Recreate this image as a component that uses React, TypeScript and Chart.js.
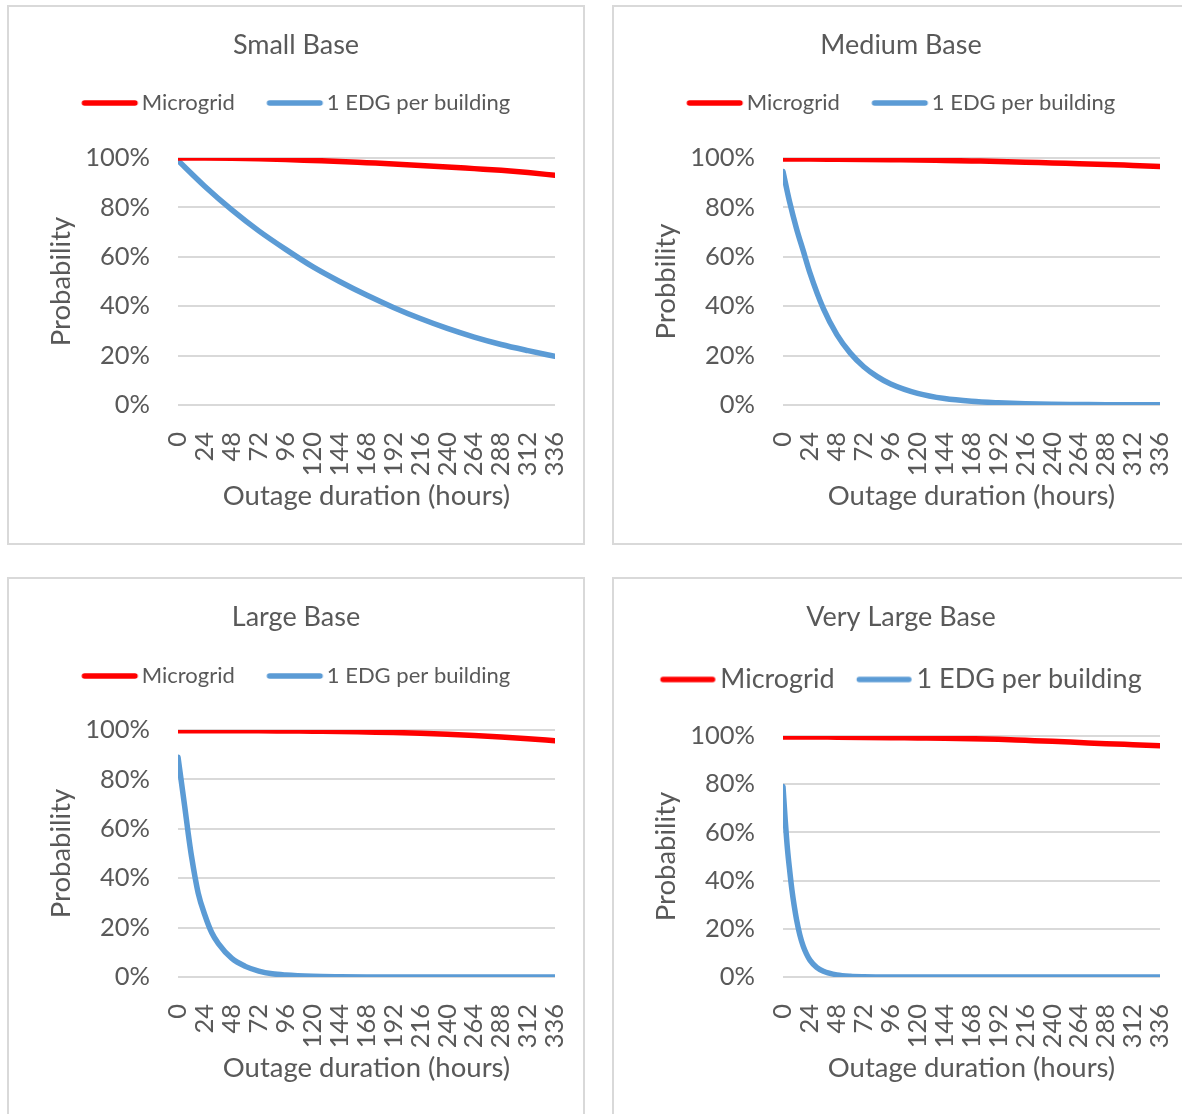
import React, { useEffect, useRef } from 'react';
import { Chart, registerables } from 'chart.js';

Chart.register(...registerables);

// ---------------- data ----------------
const seriesNames = ['Microgrid', '1 EDG per building'];
const xAxisTitle = 'Outage duration (hours)';
const xMaxHours = 336;
const xStepHours = 24;
const yTickValues = [0, 20, 40, 60, 80, 100];

const hours24 = [0, 24, 48, 72, 96, 120, 144, 168, 192, 216, 240, 264, 288, 312, 336];

// Small Base
const smallMicrogrid = [100, 100, 99.9, 99.7, 99.4, 99.0, 98.6, 98.1, 97.6, 97.0, 96.4, 95.7, 95.0, 94.1, 93.0];
const smallEdgHours = [0, 24, 48, 72, 96, 120, 144, 168, 192, 216, 240, 264, 288, 312, 336];
const smallEdg = [99, 88.5, 79, 70.5, 63, 56, 50, 44.5, 39.5, 35, 31, 27.5, 24.5, 22, 19.7];

// Medium Base
const mediumMicrogrid = [99.6, 99.6, 99.5, 99.4, 99.3, 99.2, 99.0, 98.8, 98.6, 98.3, 98.0, 97.7, 97.4, 97.0, 96.6];
const mediumEdgHours = [0, 6, 12, 18, 24, 36, 48, 60, 72, 84, 96, 120, 144, 168, 192, 216, 240, 264, 288, 312, 336];
const mediumEdg = [94.5, 82, 71.5, 62.5, 53.5, 39, 28.5, 21, 15.5, 11.5, 8.5, 4.7, 2.6, 1.5, 0.9, 0.5, 0.3, 0.2, 0.1, 0.1, 0.1];

// Large Base
const largeMicrogrid = [99.7, 99.7, 99.7, 99.7, 99.6, 99.5, 99.4, 99.2, 99.0, 98.7, 98.3, 97.8, 97.2, 96.5, 95.6];
const largeEdgHours = [0, 3, 6, 9, 12, 18, 24, 30, 36, 48, 60, 72, 84, 96, 120, 144, 168, 192, 216, 240, 264, 288, 312, 336];
const largeEdg = [89, 79, 69, 58.5, 49, 34, 25, 18, 13.5, 7.5, 4.3, 2.4, 1.3, 0.8, 0.3, 0.1, 0, 0, 0, 0, 0, 0, 0, 0];

// Very Large Base
const veryLargeMicrogrid = [99.6, 99.6, 99.5, 99.4, 99.3, 99.2, 99.1, 98.9, 98.6, 98.2, 97.8, 97.3, 96.8, 96.4, 96.0];
const veryLargeEdgHours = [0, 2, 4, 6, 8, 10, 12, 15, 18, 21, 24, 30, 36, 48, 60, 72, 96, 120, 144, 168, 192, 216, 240, 264, 288, 312, 336];
const veryLargeEdg = [79, 65, 53, 44, 36, 29.5, 24, 17.5, 12.8, 9.5, 7, 4, 2.4, 0.9, 0.3, 0.1, 0, 0, 0, 0, 0, 0, 0, 0, 0, 0, 0];

// ---------------- styles / layout ----------------
const FONT = 'Lato, "Open Sans", sans-serif';
const TEXT = '#595959';
const RED = '#ff0000';
const BLUE = '#5b9bd5';
const GRID = '#d9d9d9';
const BORDER = '#d9d9d9';
const LINE_W = 5.5;

const PANEL_W = 578;
const PANEL_H = 540;
const BORDER_W = 2;
const CANVAS_W = PANEL_W - 2 * BORDER_W;
const CANVAS_H = PANEL_H - 2 * BORDER_W;

const PLOT_LEFT = 169;
const PLOT_RIGHT = 546;
const TITLE_SIZE = 27;
const TITLE_CENTER = 38;
const AXIS_TITLE_SIZE = 27.5;
const AXIS_LH = 1.2;
const TICK_SIZE = 25.5;
const Y_TITLE_CENTER = 52;
const X_TITLE_CENTER = 489;

type PanelCfg = {
  title: string;
  yTitle: string;
  red: number[];
  blueHours: number[];
  blue: number[];
  left: number;
  top: number;
  legendSize: number;
  legendPad: number;
  legendLine: number;
  legendTextOffset: number;
  legendCenter: number;
  plotTop: number;
  plotBottom: number;
};

const panels: PanelCfg[] = [
  { title: 'Small Base', yTitle: 'Probability', red: smallMicrogrid, blueHours: smallEdgHours, blue: smallEdg,
    left: 7, top: 5, legendSize: 22, legendPad: 32, legendLine: 56, legendTextOffset: 60, legendCenter: 96, plotTop: 151, plotBottom: 398 },
  { title: 'Medium Base', yTitle: 'Probbility', red: mediumMicrogrid, blueHours: mediumEdgHours, blue: mediumEdg,
    left: 612, top: 5, legendSize: 22, legendPad: 32, legendLine: 56, legendTextOffset: 60, legendCenter: 96, plotTop: 151, plotBottom: 398 },
  { title: 'Large Base', yTitle: 'Probability', red: largeMicrogrid, blueHours: largeEdgHours, blue: largeEdg,
    left: 7, top: 577, legendSize: 22, legendPad: 32, legendLine: 56, legendTextOffset: 60, legendCenter: 97, plotTop: 151, plotBottom: 398 },
  { title: 'Very Large Base', yTitle: 'Probability', red: veryLargeMicrogrid, blueHours: veryLargeEdgHours, blue: veryLargeEdg,
    left: 612, top: 577, legendSize: 27, legendPad: 22, legendLine: 55, legendTextOffset: 60, legendCenter: 100.5, plotTop: 157, plotBottom: 398 },
];

// legend swatch: a round-capped line image, drawn by the legend as the point style
function makeSwatch(color: string, lineLen: number, boxWidth: number): HTMLCanvasElement {
  const cx = boxWidth / 2;
  const half = Math.ceil(Math.max(cx, lineLen - cx)) + 1;
  const c = document.createElement('canvas');
  c.width = half * 2;
  c.height = 10;
  const ctx = c.getContext('2d') as CanvasRenderingContext2D;
  const off = half - cx;
  ctx.strokeStyle = color;
  ctx.lineWidth = LINE_W;
  ctx.lineCap = 'round';
  ctx.beginPath();
  ctx.moveTo(off + LINE_W / 2, 5);
  ctx.lineTo(off + lineLen - LINE_W / 2, 5);
  ctx.stroke();
  return c;
}

function buildConfig(p: PanelCfg): any {
  const titlePadTop = TITLE_CENTER - TITLE_SIZE / 2;
  const titleBottom = TITLE_CENTER + TITLE_SIZE / 2;
  const titleGap = p.legendCenter - p.legendSize / 2 - p.legendPad - titleBottom;
  const legendBottom = titleBottom + titleGap + p.legendSize + p.legendPad + 10;
  const spacer = p.plotTop - legendBottom;
  const boxWidth = p.legendTextOffset - p.legendSize / 2;

  const mkLine = (label: string, xs: number[], ys: number[], color: string) => ({
    label,
    data: xs.map((h, i) => ({ x: h, y: ys[i] })),
    borderColor: color,
    backgroundColor: color,
    borderWidth: LINE_W,
    pointRadius: 0,
    pointStyle: makeSwatch(color, p.legendLine, boxWidth),
    cubicInterpolationMode: 'monotone',
    borderCapStyle: 'round',
    borderJoinStyle: 'round',
    fill: false,
  });

  return {
    type: 'line',
    data: {
      datasets: [
        mkLine(seriesNames[0], hours24, p.red, RED),
        mkLine(seriesNames[1], p.blueHours, p.blue, BLUE),
      ],
    },
    options: {
      responsive: false,
      animation: false,
      devicePixelRatio: 1,
      layout: { padding: 0 },
      events: [],
      plugins: {
        title: {
          display: true,
          text: p.title,
          color: TEXT,
          font: { family: FONT, size: TITLE_SIZE, weight: 'normal', lineHeight: 1 },
          padding: { top: titlePadTop, bottom: titleGap },
        },
        legend: {
          display: true,
          position: 'top',
          labels: {
            usePointStyle: true,
            pointStyleWidth: boxWidth,
            color: TEXT,
            font: { family: FONT, size: p.legendSize, weight: 'normal' },
            padding: p.legendPad,
          },
        },
        // empty spacer block between the legend and the plot
        subtitle: {
          display: true,
          text: '',
          position: 'top',
          weight: 500,
          font: { family: FONT, size: 1, lineHeight: 1 },
          padding: { top: spacer - 1, bottom: 0 },
        },
        tooltip: { enabled: false },
      },
      scales: {
        x: {
          type: 'linear',
          min: 0,
          max: xMaxHours,
          grid: { display: false },
          border: { display: false },
          ticks: {
            stepSize: xStepHours,
            autoSkip: false,
            minRotation: 90,
            maxRotation: 90,
            padding: 19,
            color: TEXT,
            font: { family: FONT, size: TICK_SIZE },
          },
          title: {
            display: true,
            text: xAxisTitle,
            color: TEXT,
            font: { family: FONT, size: AXIS_TITLE_SIZE, lineHeight: AXIS_LH },
            padding: { top: 0, bottom: CANVAS_H - X_TITLE_CENTER - (AXIS_TITLE_SIZE * AXIS_LH) / 2 },
          },
          afterFit: (s: any) => {
            s.height = CANVAS_H - p.plotBottom;
            s.paddingLeft = 0;
            s.paddingRight = CANVAS_W - PLOT_RIGHT;
          },
        },
        y: {
          type: 'linear',
          min: 0,
          max: 100,
          afterBuildTicks: (s: any) => {
            s.ticks = yTickValues.map((v) => ({ value: v }));
          },
          ticks: {
            callback: (v: any) => v + '%',
            padding: 28,
            color: TEXT,
            font: { family: FONT, size: TICK_SIZE },
          },
          grid: { color: GRID, lineWidth: 2, drawTicks: false },
          border: { display: false },
          title: {
            display: true,
            text: p.yTitle,
            color: TEXT,
            font: { family: FONT, size: AXIS_TITLE_SIZE, lineHeight: AXIS_LH },
            padding: { top: Y_TITLE_CENTER - (AXIS_TITLE_SIZE * AXIS_LH) / 2, bottom: 0 },
          },
          afterFit: (s: any) => {
            s.width = PLOT_LEFT;
            s.paddingTop = 0;
            s.paddingBottom = 0;
          },
        },
      },
    },
  };
}

function Panel({ cfg }: { cfg: PanelCfg }) {
  const ref = useRef<HTMLCanvasElement>(null);
  useEffect(() => {
    const chart = new Chart(ref.current as HTMLCanvasElement, buildConfig(cfg));
    return () => chart.destroy();
  }, [cfg]);
  return (
    <div
      style={{
        position: 'absolute',
        left: cfg.left,
        top: cfg.top,
        width: PANEL_W,
        height: PANEL_H,
        boxSizing: 'border-box',
        border: `${BORDER_W}px solid ${BORDER}`,
        background: '#fff',
      }}
    >
      <canvas
        ref={ref}
        width={CANVAS_W}
        height={CANVAS_H}
        style={{ display: 'block', width: CANVAS_W, height: CANVAS_H }}
      />
    </div>
  );
}

export default function App() {
  return (
    <div
      style={{
        position: 'absolute',
        left: 0,
        top: 0,
        width: 1182,
        height: 1114,
        overflow: 'hidden',
        background: '#fff',
      }}
    >
      {panels.map((p) => (
        <Panel key={p.title} cfg={p} />
      ))}
    </div>
  );
}
